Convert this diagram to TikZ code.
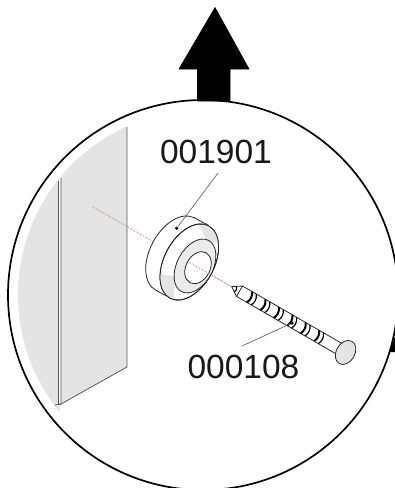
\documentclass[tikz,border=0pt]{standalone}
\usepackage{fontspec}
\setmainfont{Liberation Sans}
\definecolor{panel}{HTML}{E4E4E4}
\definecolor{ringgray}{HTML}{EBEBEB}
\definecolor{edge}{HTML}{555555}
\definecolor{axisred}{HTML}{D06868}
\tikzset{
  partlabel/.style={inner sep=0pt,font=\fontsize{33.5}{36}\selectfont,text=black!90},
  leader/.style={draw=black!60,line width=0.7pt},
  partline/.style={draw=black!85,line width=0.8pt,line join=round},
  axisline/.style={draw=axisred,line width=0.7pt,densely dotted},
  leaderdot/.style={circle,fill=black,inner sep=0pt,minimum size=3.6pt}
}
\begin{document}
\begin{tikzpicture}[x=1pt,y=-1pt]
\useasboundingbox (0,0) rectangle (395,488);
\fill[white] (0,0) rectangle (395,488);
% arrow
\fill[black,line join=round,draw=black,line width=0.6pt] (215,7.5) -- (249,69) -- (230,69) -- (230,101) -- (197.5,101) -- (197.5,69) -- (179,69) -- cycle;
% right-hand wedge
\fill[black] (395,336) -- (390,352) -- (395,352) -- cycle;
% big circle
\begin{scope}
  \clip (0,0) rectangle (395,488);
  \draw[black,line width=1.7pt] (203,295) circle [radius=195];
\end{scope}
% wall
\begin{scope}
  \clip (203,295) circle [radius=185];
  \fill[panel] (0,100) rectangle (127,420);
  \fill[white] (60,404) -- (127,367) -- (127,488) -- (60,488) -- cycle;
\end{scope}
\draw[edge,line width=0.8pt] (127,127) -- (127,367) -- (61,404);
\fill[white] (58.5,179) rectangle (61,404);
\draw[edge,line width=0.8pt] (61,178) -- (61,404) -- (55,405);
\draw[edge,line width=0.9pt] (58.5,181) -- (58.5,404) -- (61,404);
% axis
\coordinate (axisstart) at (93,207);
\coordinate (nailtip) at (231.7,286.7);
\draw[axisline] (axisstart) -- (nailtip);
% washer body: back rim, then the side band, then the front face
\begin{scope}[shift={(175,254)},rotate=-28]
  \draw[partline,fill=white] (0,0) ellipse [x radius=25,y radius=41];
\end{scope}
\begin{scope}[shift={(175,254)},rotate=-28]
  \fill[white] (0,-41) -- (16.5,-41) -- (16.5,41) -- (0,41) -- cycle;
  \draw[partline] (0,-41) -- (16.5,-41);
  \draw[partline] (0,41) -- (16.5,41);
\end{scope}
\begin{scope}[shift={(189.3,262)},rotate=-28]
  \draw[partline,fill=white] (0,0) ellipse [x radius=25,y radius=41];
\end{scope}
% shading patches on the front face
\begin{scope}
  \clip[rotate around={-28:(189.3,262)}] (189.3,262) ellipse [x radius=25,y radius=41];
  \fill[panel] (200,226) -- (206,240) -- (217,243) -- (230,240) -- (225,215) -- cycle;
  \fill[panel] (158,274) -- (175,276) -- (174,300) -- (150,310) -- cycle;
\end{scope}
\begin{scope}[shift={(189.3,262)},rotate=-28]
  \draw[partline] (0,0) ellipse [x radius=25,y radius=41];
\end{scope}
\begin{scope}[shift={(195,266)},rotate=-28]
  \draw[partline,fill=ringgray] (0,0) ellipse [x radius=18,y radius=29];
\end{scope}
\begin{scope}[shift={(198,267.7)},rotate=-28]
  \draw[partline,fill=white] (0,0) ellipse [x radius=12,y radius=17];
\end{scope}
\begin{scope}
  \clip[rotate around={-28:(198,267.7)}] (198,267.7) ellipse [x radius=12,y radius=17];
  \draw[axisline] (axisstart) -- (nailtip);
\end{scope}
\begin{scope}
  \clip (208,270) rectangle (232,290);
  \draw[axisline] (axisstart) -- (nailtip);
\end{scope}
% nail
\begin{scope}[shift={(231.7,286.7)},rotate=-30]
  \draw[partline,fill=white] (0,0) -- (9,-6) -- (124,-6) -- (124,6) -- (9,6) -- cycle;
  \draw[partline] (9,-6) -- (9,6);
  \foreach \p in {20,35.5,51,66.5,82,97.5}{
    \draw[black,line width=2pt] (\p,-6) .. controls (\p+3,-2) and (\p+3,2) .. (\p+1,6);
    \draw[black,line width=1.2pt] (\p+5,-6) .. controls (\p+8,-2) and (\p+8,2) .. (\p+6,6);
  }
  \draw[black,line width=1.2pt] (4,-2.8) .. controls (6,-1) and (6,2) .. (5,3);
  \draw[partline,fill=panel] (131.5,0) ellipse [x radius=9.3,y radius=12.8];
\end{scope}
% labels and leaders
\node[partlabel] (labA) at (216,152) {001901};
\node[partlabel] (labB) at (243.5,367) {000108};
\node[leaderdot] (dotA) at (176.7,228.3) {};
\node[leaderdot] (dotB) at (292,323) {};
\coordinate (leadA) at (218,173);
\coordinate (leadB) at (242,346);
\draw[leader] (leadA) -- (dotA);
\draw[leader] (leadB) -- (dotB);
\end{tikzpicture}
\end{document}
